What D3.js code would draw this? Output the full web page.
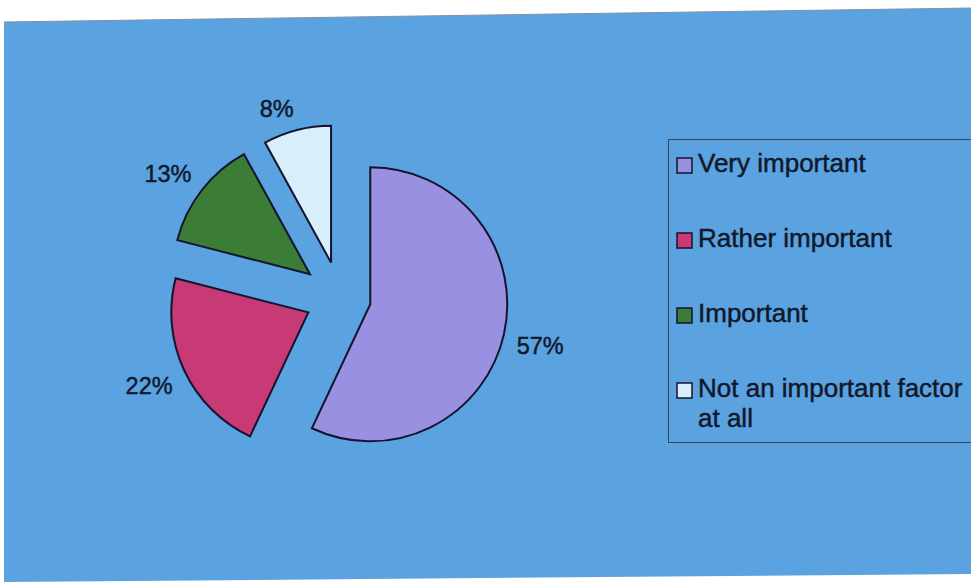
<!DOCTYPE html>
<html>
<head>
<meta charset="utf-8">
<script src="https://cdn.jsdelivr.net/npm/d3@7"></script>
<style>
  html, body { margin: 0; padding: 0; background: #ffffff; }
  svg { display: block; }
  text { font-family: "Liberation Sans", Arial, sans-serif; fill: #10182a; stroke: #10182a; stroke-width: 0.45px; }
</style>
</head>
<body>
<svg id="chart" width="971" height="582"></svg>
<script>
// Survey answers and their shares (%)
const categories = ["Very important", "Rather important", "Important", "Not an important factor at all"];
const shares = [57, 22, 13, 8];
const sliceColors = ["#9990e2", "#c73a76", "#3b7c37", "#d9eefb"];
// how far each slice is pulled out of the pie (px)
const explode = [31, 35, 38, 36];
// legend text, broken into lines
const legendLines = [["Very important"], ["Rather important"], ["Important"], ["Not an important factor", "at all"]];

const svg = d3.select("#chart");
const W = 971, H = 582;

// chart area
svg.append("path")
  .attr("d", d3.line()([[4, 22], [W, 8], [W, 574], [4, H]]) + "Z")
  .attr("fill", "#5aa2e0");
svg.append("line")
  .attr("x1", 4).attr("y1", 22).attr("x2", W).attr("y2", 8)
  .attr("stroke", "#8191a6").attr("stroke-width", 1);

// pie
const cx = 340, cy = 297.5, R = 137;
const pie = d3.pie().sort(null).value(d => d)(shares);
const arc = d3.arc().innerRadius(0).outerRadius(R);
const g = svg.append("g").attr("transform", `translate(${cx},${cy})`);

const dir = a => [Math.sin(a), -Math.cos(a)];

g.selectAll("path.slice")
  .data(pie)
  .join("path")
  .attr("class", "slice")
  .attr("transform", (d, i) => {
    const [ux, uy] = dir((d.startAngle + d.endAngle) / 2);
    return `translate(${ux * explode[i]},${uy * explode[i]})`;
  })
  .attr("d", arc)
  .attr("fill", (d, i) => sliceColors[i])
  .attr("stroke", "#14142c")
  .attr("stroke-width", 2)
  .attr("stroke-linejoin", "miter");

// percentage labels: the label box's near corner sits just beyond the arc, on the slice's mid-line
const labelGap = 13, halfH = 9;
g.selectAll("text.pct")
  .data(pie)
  .join("text")
  .attr("class", "pct")
  .attr("text-anchor", "middle")
  .attr("dy", "0.35em")
  .attr("font-size", 23.5)
  .text(d => d.data + "%")
  .attr("transform", function (d, i) {
    const [ux, uy] = dir((d.startAngle + d.endAngle) / 2);
    const w = this.getComputedTextLength();
    const t = explode[i] + R + labelGap;
    const x = ux * t + Math.sign(ux) * w / 2;
    const y = uy * t + Math.sign(uy) * halfH;
    return `translate(${x},${y})`;
  });

// legend
const lg = svg.append("g");
lg.append("rect")
  .attr("x", 668.5).attr("y", 139.5)
  .attr("width", 320).attr("height", 303)
  .attr("fill", "none").attr("stroke", "#3a4656").attr("stroke-width", 1);

const items = lg.selectAll("g.item")
  .data(categories)
  .join("g")
  .attr("class", "item")
  .attr("transform", (d, i) => `translate(0,${172 + i * 75})`);

items.append("rect")
  .attr("x", 677).attr("y", -14)
  .attr("width", 15).attr("height", 15)
  .attr("fill", (d, i) => sliceColors[i])
  .attr("stroke", "#14142c").attr("stroke-width", 1.5);

items.append("text")
  .attr("x", 698)
  .attr("font-size", 26)
  .selectAll("tspan")
  .data((d, i) => legendLines[i])
  .join("tspan")
  .attr("x", 698)
  .attr("dy", (d, j) => j === 0 ? 0 : 30)
  .text(d => d);
</script>
</body>
</html>
